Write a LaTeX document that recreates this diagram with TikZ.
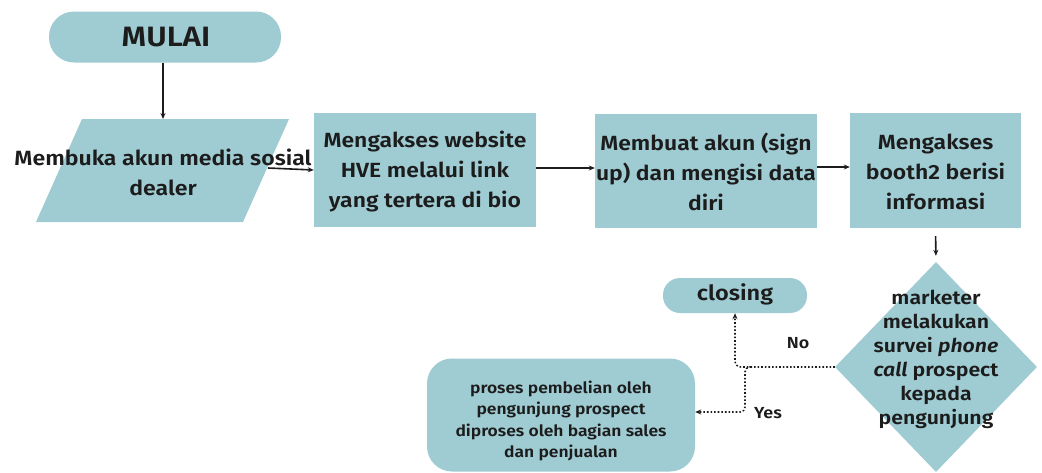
\documentclass[tikz,border=0pt]{standalone}
\usepackage{fontspec}
\setmainfont{Fira Sans}
\newfontfamily\fsb[FakeStretch=1.12]{Fira Sans SemiBold}
\usetikzlibrary{shapes.geometric,arrows.meta}
\definecolor{teal1}{HTML}{9FCBD2}
\definecolor{ink}{HTML}{1C1C1C}
\tikzset{
  boxnode/.style={fill=teal1,draw=none,minimum width=222pt,minimum height=114pt,inner sep=0pt},
  stadium/.style={fill=teal1,draw=none,inner sep=0pt},
  txt/.style={align=center,text=ink,inner sep=0pt},
  arr/.style={draw=ink,line width=1.6pt,-{Stealth[length=6pt,width=5pt]}},
  dotarr/.style={draw=ink,line width=1.6pt,dotted,-{Stealth[length=6pt,width=5pt]}},
}
\begin{document}
\begin{tikzpicture}[x=1pt,y=-1pt]
\useasboundingbox (0,0) rectangle (1042,472);
% start
\node[stadium,minimum width=232pt,minimum height=51pt,rounded corners=25pt] (mulai) at (165,37) {};
\node[txt,font=\fsb\fontsize{28}{30}\selectfont] (mulaitxt) at (166,37) {MULAI};
% parallelogram
\fill[teal1] (82,119) -- (289,119) -- (243,222) -- (36,222) -- cycle;
\coordinate (paratop) at (163,119);
\coordinate (pararight) at (268,168);
\node[txt,font=\fsb\fontsize{20.6}{30}\selectfont] (para) at (163,172) {Membuka akun media sosial\\dealer};
% boxes
\node[boxnode] (b2) at (425,170) {};
\node[txt,font=\fsb\fontsize{20.5}{30}\selectfont] (b2t) at (425,172) {Mengakses website\\HVE melalui link\\yang tertera di bio};
\node[boxnode] (b3) at (706,171) {};
\node[txt,font=\fsb\fontsize{20.5}{30}\selectfont] (b3t) at (706,172) {Membuat akun (sign\\up) dan mengisi data\\diri};
\node[boxnode,minimum width=171pt,minimum height=115pt] (b4) at (935.5,170.5) {};
\node[txt,font=\fsb\fontsize{20.5}{30}\selectfont] (b4t) at (935.5,172) {Mengakses\\booth2 berisi\\informasi};
% diamond
\node[diamond,fill=teal1,draw=none,inner sep=0pt,minimum width=202pt,minimum height=210pt] (dia) at (936,367) {};
\node[txt,font=\fsb\fontsize{19}{24}\selectfont] (diat) at (936,359) {marketer\\melakukan\\survei \textit{phone}\\\textit{call} prospect\\kepada\\pengunjung};
% closing
\node[stadium,minimum width=144pt,minimum height=35pt,rounded corners=17pt] (closing) at (735,295.5) {};
\node[txt,font=\fsb\fontsize{21}{24}\selectfont] (closingt) at (735,294) {closing};
% purchase
\node[stadium,minimum width=268pt,minimum height=113pt,rounded corners=25pt] (buy) at (561,415) {};
\node[txt,font=\fsb\fontsize{15.6}{21.5}\selectfont] (buyt) at (561,421) {proses pembelian oleh\\pengunjung prospect\\diproses oleh bagian sales\\dan penjualan};
% connectors
\draw[arr] (mulai.south) ++(-2,0) -- (paratop);
\draw[arr] (pararight) -- (b2.west);
\draw[arr] (b2.east |- 0,168) -- (b3.west |- 0,168);
\draw[arr] (b3.east |- 0,167) -- (b4.west |- 0,167);
\draw[arr,shorten <=8pt,shorten >=6pt] (b4.south) -- (dia.north);
\coordinate (split) at (751,367);
\coordinate (yesturn) at (745,412);
\draw[dotarr,rounded corners=6pt] (dia.west) -- (closing.south |- dia.west) -- (closing.south);
\draw[dotarr,rounded corners=5pt] (split) -- (745,367) -- (yesturn) -- (yesturn -| buy.east);
\node[txt,font=\fsb\fontsize{16}{18}\selectfont] (no) at (798,343) {No};
\node[txt,font=\fsb\fontsize{16}{18}\selectfont] (yes) at (768,413) {Yes};
\end{tikzpicture}
\end{document}
